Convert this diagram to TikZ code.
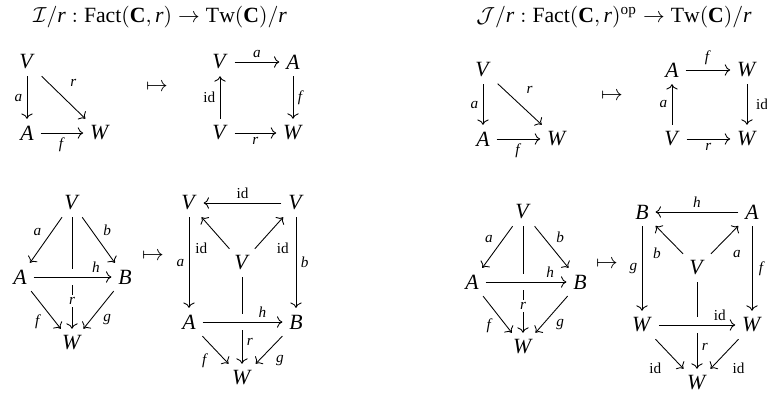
\documentclass[tikz,border=0pt]{standalone}
\usepackage{fontspec}
\setmainfont{Liberation Serif}
\setmathrm{Liberation Serif}
\usetikzlibrary{arrows.meta}
\newcommand{\vv}[1]{\textit{#1}}
\tikzset{
    obj/.style={inner sep=3pt},
    lbl/.style={font=\scriptsize, inner sep=2pt},
    desc/.style={lbl, fill=white, inner sep=1pt},
    arr/.style={-{To}},
    over/.style={preaction={draw=white, line width=7pt, arrows=-}}
}

\begin{document}
\begin{tikzpicture}[x=0.46pt, y=-0.46pt, every node/.style={obj}]
        \useasboundingbox (0,0) rectangle (767,398);

        % titles
        \node (t1) at (160,17) {$\mathcal{I}/\mathit{r} : \mathrm{Fact}(\mathbf{C}, \mathit{r}) \to \mathrm{Tw}(\mathbf{C})/\mathit{r}$};
        \node (t2) at (614,17) {$\mathcal{J}/\mathit{r} : \mathrm{Fact}(\mathbf{C}, \mathit{r})^{\mathrm{op}} \to \mathrm{Tw}(\mathbf{C})/\mathit{r}$};

        % top left
        \node (v1) at (27,62) {\vv{V}};
        \node (a1) at (27,133) {\vv{A}};
        \node (w1) at (100,133) {\vv{W}};
        \draw[arr] (v1) -- node[lbl, above right=2pt, pos=.45] {\vv{r}} (w1);
        \draw[arr] (v1) -- node[lbl, left] {\vv{a}} (a1);
        \draw[arr] (a1) -- node[lbl, below] {\vv{f}} (w1);
        \node (m1) at (157,88) {$\mapsto$};
        \node (v2) at (220,62) {\vv{V}};
        \node (a2) at (293,62) {\vv{A}};
        \node (u2) at (220,133) {\vv{V}};
        \node (w2) at (293,133) {\vv{W}};
        \draw[arr] (v2) -- node[lbl, above] {\vv{a}} (a2);
        \draw[arr] (a2) -- node[lbl, right] {\vv{f}} (w2);
        \draw[arr] (u2) -- node[lbl, left] {id} (v2);
        \draw[arr] (u2) -- node[lbl, below] {\vv{r}} (w2);

        % top right
        \node (v3) at (483,70) {\vv{V}};
        \node (a3) at (483,139) {\vv{A}};
        \node (w3) at (557,139) {\vv{W}};
        \draw[arr] (v3) -- node[lbl, left] {\vv{a}} (a3);
        \draw[arr] (v3) -- node[lbl, above right=2pt, pos=.45] {\vv{r}} (w3);
        \draw[arr] (a3) -- node[lbl, below] {\vv{f}} (w3);
        \node (m3) at (612,97) {$\mapsto$};
        \node (a4) at (672,70) {\vv{A}};
        \node (w4) at (747,70) {\vv{W}};
        \node (v4) at (672,139) {\vv{V}};
        \node (x4) at (747,139) {\vv{W}};
        \draw[arr] (a4) -- node[lbl, above] {\vv{f}} (w4);
        \draw[arr] (w4) -- node[lbl, right=2pt] {id} (x4);
        \draw[arr] (v4) -- node[lbl, left] {\vv{a}} (a4);
        \draw[arr] (v4) -- node[lbl, below] {\vv{r}} (x4);

        % bottom left
        \node (v5) at (72,203) {\vv{V}};
        \node (a5) at (20,277) {\vv{A}};
        \node (b5) at (125,277) {\vv{B}};
        \node (w5) at (72,343) {\vv{W}};
        \draw[arr] (v5) -- node[lbl, above left] {\vv{a}} (a5);
        \draw[arr] (v5) -- node[lbl, above right] {\vv{b}} (b5);
        \draw[arr] (v5) -- node[desc, pos=.75] {\vv{r}} (w5);
        \draw[arr, over] (a5) -- node[lbl, above, pos=.8] {\vv{h}} (b5);
        \draw[arr] (a5) -- node[lbl, below left] {\vv{f}} (w5);
        \draw[arr] (b5) -- node[lbl, below right] {\vv{g}} (w5);
        \node (m5) at (153,257) {$\mapsto$};
        \node (v6) at (189,203) {\vv{V}};
        \node (u6) at (296,203) {\vv{V}};
        \node (c6) at (242,263) {\vv{V}};
        \node (a6) at (189,322) {\vv{A}};
        \node (b6) at (296,322) {\vv{B}};
        \node (w6) at (242,378) {\vv{W}};
        \draw[arr] (u6) -- node[lbl, above] {id} (v6);
        \draw[arr] (c6) -- node[lbl, pos=0, left=8pt] {id} (v6);
        \draw[arr] (c6) -- node[lbl, pos=0, right=8pt] {id} (u6);
        \draw[arr] (v6) -- node[lbl, left] {\vv{a}} (a6);
        \draw[arr] (u6) -- node[lbl, right] {\vv{b}} (b6);
        \draw[arr] (c6) -- node[lbl, right, pos=.75] {\vv{r}} (w6);
        \draw[arr, over] (a6) -- node[lbl, above, pos=.75] {\vv{h}} (b6);
        \draw[arr] (a6) -- node[lbl, pos=.9, left=6pt] {\vv{f}} (w6);
        \draw[arr] (b6) -- node[lbl, pos=.9, right=6pt] {\vv{g}} (w6);

        % bottom right
        \node (v7) at (523,212) {\vv{V}};
        \node (a7) at (472,282) {\vv{A}};
        \node (b7) at (580,282) {\vv{B}};
        \node (w7) at (523,347) {\vv{W}};
        \draw[arr] (v7) -- node[lbl, above left] {\vv{a}} (a7);
        \draw[arr] (v7) -- node[lbl, above right] {\vv{b}} (b7);
        \draw[arr] (v7) -- node[desc, pos=.75] {\vv{r}} (w7);
        \draw[arr, over] (a7) -- node[lbl, above, pos=.8] {\vv{h}} (b7);
        \draw[arr] (a7) -- node[lbl, below left] {\vv{f}} (w7);
        \draw[arr] (b7) -- node[lbl, below right] {\vv{g}} (w7);
        \node (m7) at (607,265) {$\mapsto$};
        \node (b8) at (642,212) {\vv{B}};
        \node (a8) at (752,212) {\vv{A}};
        \node (c8) at (697,268) {\vv{V}};
        \node (w8) at (642,325) {\vv{W}};
        \node (x8) at (752,325) {\vv{W}};
        \node (y8) at (697,383) {\vv{W}};
        \draw[arr] (a8) -- node[lbl, above] {\vv{h}} (b8);
        \draw[arr] (c8) -- node[lbl, pos=0, left=8pt] {\vv{b}} (b8);
        \draw[arr] (c8) -- node[lbl, pos=0, right=8pt] {\vv{a}} (a8);
        \draw[arr] (b8) -- node[lbl, left] {\vv{g}} (w8);
        \draw[arr] (a8) -- node[lbl, right=1pt] {\vv{f}} (x8);
        \draw[arr] (c8) -- node[lbl, right, pos=.75] {\vv{r}} (y8);
        \draw[arr, over] (w8) -- node[lbl, above, pos=.8] {id} (x8);
        \draw[arr] (w8) -- node[lbl, pos=1, left=8pt] {id} (y8);
        \draw[arr] (x8) -- node[lbl, pos=1, right=8pt] {id} (y8);
    \end{tikzpicture}
\end{document}
